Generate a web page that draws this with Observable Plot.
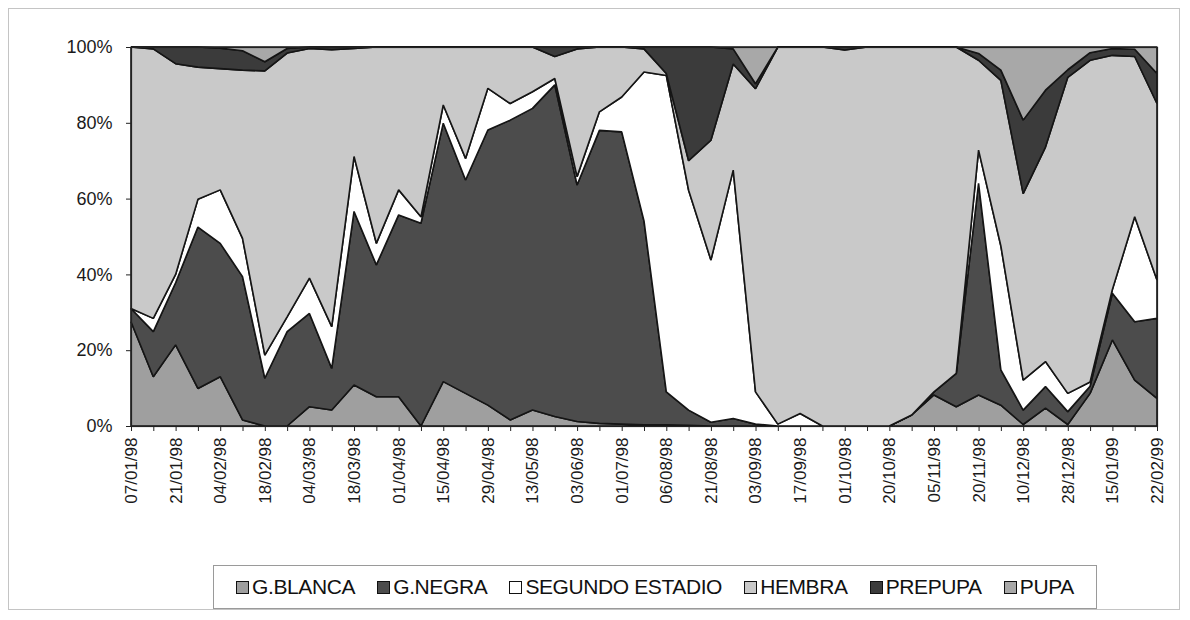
<!DOCTYPE html>
<html>
<head>
<meta charset="utf-8">
<script src="https://cdn.jsdelivr.net/npm/d3@7"></script>
<script src="https://cdn.jsdelivr.net/npm/@observablehq/plot@0.6"></script>
<style>
  body { margin: 0; background: #fff; font-family: "Liberation Sans", Arial, sans-serif; }
  #wrap { position: relative; width: 1190px; height: 620px; overflow: hidden; }
  #frame { position: absolute; left: 8px; top: 8px; width: 1172px; height: 602px; border: 1px solid #c4c4c4; box-sizing: border-box; }
  #chart { position: absolute; left: 0; top: 0; }
  #legend { position: absolute; left: 213px; top: 565px; width: 884px; height: 44px; border: 1px solid #9a9a9a; box-sizing: border-box;
            display: flex; align-items: center; justify-content: space-evenly; font-size: 21px; letter-spacing: -0.4px; color: #111; }
  .item { display: flex; align-items: center; }
  .sw { width: 11px; height: 11px; border: 1px solid #111; margin-right: 3px; }
</style>
</head>
<body>
<div id="wrap">
  <div id="frame"></div>
  <div id="chart"></div>
  <div id="legend"></div>
</div>
<script>
// Tick labels (every other sampling date)
const tickLabels = ["07/01/98","21/01/98","04/02/98","18/02/98","04/03/98","18/03/98","01/04/98","15/04/98",
  "29/04/98","13/05/98","03/06/98","01/07/98","06/08/98","21/08/98","03/09/98","17/09/98","01/10/98",
  "20/10/98","05/11/98","20/11/98","10/12/98","28/12/98","15/01/99","22/02/99"];

const seriesNames = ["G.BLANCA","G.NEGRA","SEGUNDO ESTADIO","HEMBRA","PREPUPA","PUPA"];
const seriesColors = ["#9f9f9f","#4c4c4c","#ffffff","#c9c9c9","#3b3b3b","#a8a8a8"];

// Percentages per sample (47 samples)
const gBlanca = [27.5,13,21.4,9.9,13,1.6,0,0,5.1,4.2,10.8,7.7,7.7,0,11.7,8.6,5.5,1.6,4.2,2.5,1.2,0.7,0.5,0.3,
  0.3,0.2,0,0,0,0,0,0,0,0,0,2.9,8.2,5.1,8.2,5.5,0.4,4.7,0.4,8.6,22.7,12.1,7.3];
const gNegra = [3.5,11.9,16.4,42.6,35.2,37.8,12.6,24.9,24.6,11,45.8,34.8,48,53.5,68.2,56.3,72.6,79.1,79.6,87.5,62.4,77.3,77.1,53.8,
  8.7,4,1,2,0.5,0,0,0,0,0,0,0,0.8,8.8,55.8,9.3,3.8,5.7,3.4,1.9,12.3,15.4,21.1];
const segundo = [0,3.5,2.2,7.3,14.1,10.1,6.1,3.9,9.3,11,14.5,5.7,6.6,1.7,4.8,5.7,11,4.4,4.4,1.7,2.2,4.9,9.2,39.3,
  83.5,58,42.8,65.5,8.5,0.5,3.3,0,0,0,0,0,0,0,8.8,32.7,7.9,6.6,4.8,1.1,1,27.7,10.1];
const hembra = [69,71.1,55.6,34.9,32,44.4,75,69.6,60.6,73.1,28.5,51.8,37.7,44.8,15.3,29.4,10.9,14.9,11.8,5.8,33.7,17.1,13.2,6.1,
  0.5,7.8,31.6,28,80,99.5,96.7,100,99.2,100,100,97.1,91,86.1,23.7,43.7,49.2,56.6,83.4,84.9,61.8,42.3,46.6];
const prepupa = [0,0.5,4.4,5.3,5.4,5.1,2.4,1.2,0.4,0.7,0.4,0,0,0,0,0,0,0,0,2.5,0.5,0,0,0.5,
  7,30,24.6,4,1.3,0,0,0,0.8,0,0,0,0,0,1.8,2.7,19.4,15,2,2,1.8,1.9,7.9];
const pupa = [0,0,0,0,0.3,1,3.9,0.4,0,0,0,0,0,0,0,0,0,0,0,0,0,0,0,0,
  0,0,0,0.5,9.7,0,0,0,0,0,0,0,0,0,1.7,6.1,19.3,11.4,6,1.5,0.4,0.6,7];

const seriesValues = [gBlanca, gNegra, segundo, hembra, prepupa, pupa];
const rows = [];
seriesNames.forEach((s, j) => {
  seriesValues[j].forEach((v, i) => rows.push({i, series: s, value: v}));
});

const n = gBlanca.length;
const chart = Plot.plot({
  width: 1190,
  height: 520,
  marginLeft: 131,
  marginRight: 33,
  marginTop: 47,
  marginBottom: 94,
  style: {fontFamily: "'Liberation Sans', Arial, sans-serif", color: "#1a1a1a", background: "transparent"},
  x: {type: "linear", domain: [0, n - 1]},
  y: {domain: [0, 100]},
  color: {domain: seriesNames, range: seriesColors},
  marks: [
    Plot.areaY(rows, {x: "i", y: "value", z: "series", fill: "series", order: seriesNames,
      stroke: "#151515", strokeWidth: 1.6, strokeLinejoin: "miter"}),
    Plot.frame({stroke: "#222", strokeWidth: 1.2}),
    Plot.axisY({ticks: [0,20,40,60,80,100], tickFormat: d => d + "%", tickSize: 5, tickPadding: 14,
      fontSize: 18, label: null, stroke: "#222"}),
    Plot.axisX({ticks: d3.range(n), tickFormat: i => (i % 2 === 0 ? tickLabels[i / 2] : ""),
      tickRotate: -90, tickSize: 5, tickPadding: 6, fontSize: 17, label: null, stroke: "#222"})
  ]
});
document.getElementById("chart").appendChild(chart);

const legend = document.getElementById("legend");
seriesNames.forEach((s, j) => {
  const it = document.createElement("div");
  it.className = "item";
  const sw = document.createElement("div");
  sw.className = "sw";
  sw.style.background = seriesColors[j];
  const tx = document.createElement("span");
  tx.textContent = s;
  it.appendChild(sw); it.appendChild(tx);
  legend.appendChild(it);
});
</script>
</body>
</html>
